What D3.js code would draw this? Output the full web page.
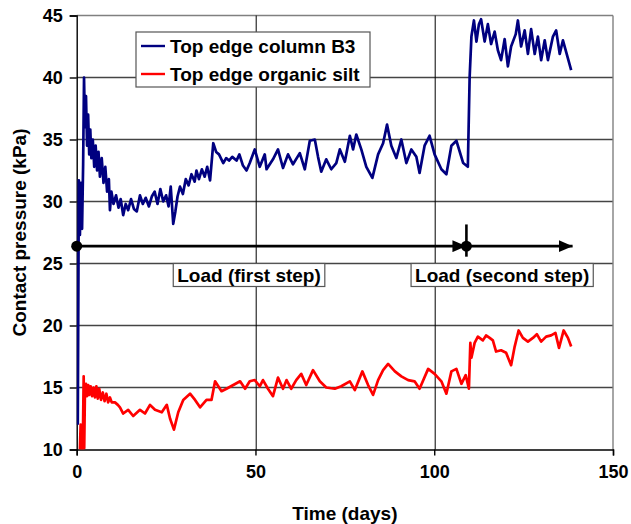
<!DOCTYPE html>
<html>
<head>
<meta charset="utf-8">
<script src="https://cdn.jsdelivr.net/npm/d3@7"></script>
<style>
  body { margin: 0; background: #fff; }
  text { font-family: "Liberation Sans", Arial, sans-serif; font-weight: bold; }
</style>
</head>
<body>
<svg id="chart" width="631" height="524"></svg>
<script>
// ---- data ----
var xTicks = [0, 50, 100, 150];
var yTicks = [10, 15, 20, 25, 30, 35, 40, 45];

var seriesNames = ["Top edge column B3", "Top edge organic silt"];
var seriesColors = ["#000080", "#ff0000"];

var blueT = [0.3, 0.6, 0.9, 1.2, 1.5, 1.8, 2.05, 2.3, 2.6, 2.9, 3.2, 3.5, 3.8, 4.1, 4.5, 4.9, 5.3, 5.7, 6.1, 6.5, 7, 7.5, 8, 8.5, 9, 9.3, 9.7, 10.3, 11, 11.7, 12.3, 13, 13.7, 14.4, 15.2, 16, 16.8, 17.7, 18.5, 19.3, 20.2, 21, 21.8, 22.6, 23.4, 24.2, 25, 25.7, 26.3, 27, 27.6, 28.2, 28.9, 29.7, 30.5, 31.3, 32.1, 33, 33.5, 34.2, 35, 35.8, 36.5, 37.3, 38.2, 39, 39.8, 41, 41.8, 42.6, 43.5, 44.7, 45.5, 46.5, 47.5,
  48.4, 49.8, 51.2, 52.6, 53.1, 54.9, 56.3, 57.7, 59.1, 60.5, 62.4, 63.8, 65.2, 66.6, 67.5, 68.4, 69.8, 71.2, 72.6, 73.6, 75.0, 76.4, 77.3, 78.2, 79.6, 81.0, 82.7, 84.3, 85.7, 86.8, 88.0, 89.4, 90.8, 92.2, 93.6, 95.0, 95.9, 97.3, 98.7, 100.1, 102.0, 103.4, 104.8, 106.2, 108.1, 109.4,
  109.9, 110.4, 111.1, 111.8, 112.5, 113.1, 114.1, 115.0, 115.9, 116.9, 117.8, 118.7, 119.7, 120.6, 121.5, 122.8, 123.4, 124.3, 125.3, 126.2, 127.1, 128.1, 129.0, 129.9, 130.9, 131.8, 133.2, 134.1, 135.1, 136.0, 138.3];
var blueV = [12, 31.7, 27.3, 31.5, 27.8, 33, 40.0, 36, 38.5, 34.5, 37, 33.8, 35.8, 33.5, 35, 32.8, 34.5, 32.5, 34, 32, 33.5, 31.5, 32.8, 30.8, 31.8, 29.3, 30.8, 29.8, 30.5, 29.5, 30.2, 28.9, 29.8, 29.3, 30.2, 29.4, 29.2, 30.5, 29.8, 30.3, 29.6, 30.4, 30.8, 29.8, 31, 30, 30.5, 29.6, 31.2, 28.2, 29.2, 30.4, 31.2, 30.6, 31.8, 31.3, 32.2, 31.6, 32.5, 31.8, 32.6, 32.0, 32.8, 31.7, 34.7, 34, 33.8, 33.1, 33.5, 33.3, 33.6, 33.3, 33.8, 32.9, 32.5,
  33.1, 34.2, 32.8, 33.8, 32.6, 33.4, 34.2, 32.7, 33.8, 33.0, 33.9, 32.6, 34.9, 35.0, 33.6, 32.4, 33.4, 32.6, 33.1, 34.2, 33.2, 35.3, 34.2, 35.4, 34.2, 32.8, 31.9, 33.8, 34.7, 36.2, 34.5, 33.5, 35.0, 33.1, 34.2, 33.6, 32.3, 34.5, 35.3, 33.8, 32.6, 32.2, 34.5, 34.9, 33.1, 32.8,
  40.0, 43.3, 44.6, 42.9, 44.3, 44.7, 42.9, 44.3, 42.7, 43.7, 42.2, 41.4, 43.1, 40.9, 42.5, 43.5, 44.6, 42.5, 43.8, 41.9, 43.9, 41.9, 43.3, 41.4, 43.0, 41.4, 43.3, 43.8, 41.9, 43.0, 40.6];

var redT = [0.9, 1.1, 1.4, 1.7, 1.95, 2.1, 2.3, 2.6, 2.9, 3.2, 3.5, 3.9, 4.3, 4.7, 5.1, 5.5, 5.9, 6.3, 6.8, 7.3, 7.8, 8.3, 8.8, 9.3, 9.8, 10.7, 11.5, 12.1, 13.0, 14.4, 15.8, 17.7, 19.1, 20.5, 21.9, 23.8, 25.2, 26.1, 27.2, 28.4, 29.8, 31.7, 33.1, 34.5, 36.3, 37.7, 38.7, 40.5, 41.9, 43.8, 45.7, 47.1,
  48.4, 49.8, 51.2, 52.1, 53.5, 54.9, 56.3, 57.7, 58.7, 60.0, 61.4, 62.8, 64.2, 66.1, 68.0, 69.8, 72.2, 74.0, 76.4, 77.8, 79.9, 81.5, 82.9, 84.3, 85.7, 87.1, 89.0, 90.8, 92.7, 94.5, 95.9, 98.3, 100.1, 102.0, 103.4, 104.8, 106.2, 107.6, 108.8, 109.7,
  110.1, 110.4, 111.3, 112.2, 113.6, 114.5, 115.5, 116.4, 117.3, 118.7, 120.1, 121.5, 122.5, 123.6, 124.8, 126.2, 127.6, 128.7, 129.9, 131.3, 132.7, 133.9, 134.9, 136.2, 137.4, 138.3];
var redV = [10, 12, 10, 10, 15.9, 10.1, 14.6, 15.3, 14.3, 15.2, 14.4, 15.1, 14.3, 15.0, 14.2, 15.1, 14.1, 14.9, 14.0, 14.6, 13.9, 14.5, 13.8, 14.2, 13.8, 13.8, 13.6, 13.4, 12.9, 13.2, 12.7, 13.2, 12.9, 13.6, 13.2, 13.0, 13.6, 12.5, 11.6, 13.0, 14.0, 14.5, 14.0, 13.4, 14.0, 14.0, 15.5, 14.7, 14.9, 15.2, 15.5, 14.9,
  15.5, 15.6, 15.1, 15.6, 14.9, 14.3, 15.8, 14.9, 15.6, 14.9, 15.6, 16.1, 15.2, 16.4, 15.5, 15.0, 14.9, 15.1, 15.5, 14.8, 16.3, 15.2, 14.4, 15.6, 16.4, 16.9, 16.3, 15.9, 15.6, 15.5, 14.9, 16.5, 16.1, 15.5, 14.5, 16.3, 16.5, 15.3, 16.0, 14.9,
  18.6, 17.4, 18.6, 19.1, 18.8, 19.2, 19.0, 18.8, 17.9, 18.0, 17.8, 16.8, 18.3, 19.6, 19.0, 18.7, 19.0, 19.3, 18.7, 19.1, 19.2, 19.4, 18.2, 19.6, 19.0, 18.3];

// load arrow annotation
var loadLevel = 26.4;
var loadSteps = [0, 109];
var loadEnd = 138.7;
var loadLabels = ["Load (first step)", "Load (second step)"];
var loadLabelT = [48.2, 119.0];
var loadLabelV = 24.1;

// ---- chart ----
var svg = d3.select("#chart"),
    margin = {top: 15.5, right: 18, bottom: 74.5, left: 76.7},
    width = 631 - margin.left - margin.right,
    height = 524 - margin.top - margin.bottom,
    g = svg.append("g").attr("transform", "translate(" + margin.left + "," + margin.top + ")");

var x = d3.scaleLinear().domain([0, 150]).range([0, width]),
    y = d3.scaleLinear().domain([10, 45]).range([height, 0]);

svg.append("defs").append("clipPath").attr("id", "clip")
  .append("rect").attr("width", width).attr("height", height);

// gridlines
g.selectAll(".hgrid").data(yTicks.slice(1)).enter().append("line")
    .attr("x1", 0).attr("x2", width)
    .attr("y1", function(d) { return y(d); }).attr("y2", function(d) { return y(d); })
    .attr("stroke", function(d) { return d == 45 ? "#808080" : "#444"; })
    .attr("stroke-width", 1.4);
g.selectAll(".vgrid").data([50, 100]).enter().append("line")
    .attr("y1", 0).attr("y2", height)
    .attr("x1", function(d) { return Math.round(x(d)) + 0.5; }).attr("x2", function(d) { return Math.round(x(d)) + 0.5; })
    .attr("stroke", "#000").attr("stroke-width", 1);
g.append("line").attr("x1", width).attr("x2", width).attr("y1", 0).attr("y2", height)
    .attr("stroke", "#808080").attr("stroke-width", 1.4);

// axes
var xAxis = g.append("g")
    .attr("transform", "translate(0," + height + ")")
    .call(d3.axisBottom(x).tickValues(xTicks).tickSize(6).tickPadding(10));
var yAxis = g.append("g")
    .call(d3.axisLeft(y).tickValues(yTicks).tickSize(7).tickPadding(7));
[xAxis, yAxis].forEach(function(a) {
  a.select(".domain").attr("stroke", "#000").attr("stroke-width", 1.4);
  a.selectAll(".tick line").attr("stroke", "#000").attr("stroke-width", 1.4);
  a.selectAll(".tick text").attr("fill", "#000").attr("font-size", 18)
    .attr("font-family", "Liberation Sans, Arial, sans-serif").attr("font-weight", "bold");
});

// series
var line = d3.line()
    .x(function(d) { return x(d[0]); })
    .y(function(d) { return y(d[1]); });

var series = [d3.zip(blueT, blueV), d3.zip(redT, redV)];
g.append("g").attr("clip-path", "url(#clip)")
  .selectAll("path").data(series).enter().append("path")
    .attr("d", line)
    .attr("fill", "none")
    .attr("stroke", function(d, i) { return seriesColors[i]; })
    .attr("stroke-width", 2.7)
    .attr("stroke-linejoin", "round");

// load arrows
var defs = svg.select("defs");
defs.append("marker").attr("id", "head")
    .attr("viewBox", "0 0 14 12").attr("refX", 14).attr("refY", 6)
    .attr("markerWidth", 14).attr("markerHeight", 12)
    .attr("markerUnits", "userSpaceOnUse").attr("orient", "auto")
  .append("path").attr("d", "M0,0L14,6L0,12Z").attr("fill", "#000");

var segs = [[loadSteps[0], loadSteps[1]], [loadSteps[1], loadEnd]];
g.selectAll(".seg").data(segs).enter().append("line")
    .attr("x1", function(d) { return x(d[0]); }).attr("x2", function(d) { return x(d[1]); })
    .attr("y1", y(loadLevel)).attr("y2", y(loadLevel))
    .attr("stroke", "#000").attr("stroke-width", 2.6)
    .attr("marker-end", "url(#head)");
g.append("line")
    .attr("x1", x(loadSteps[1])).attr("x2", x(loadSteps[1]))
    .attr("y1", y(loadLevel + 1.75)).attr("y2", y(loadLevel - 0.85))
    .attr("stroke", "#000").attr("stroke-width", 2.6);
g.selectAll(".dot").data(loadSteps).enter().append("circle")
    .attr("cx", function(d) { return x(d); }).attr("cy", y(loadLevel))
    .attr("r", 5.5).attr("fill", "#000");

// load labels
var lab = g.selectAll(".lab").data(loadLabels).enter().append("g");
lab.append("rect");
lab.append("text")
    .attr("x", function(d, i) { return x(loadLabelT[i]); })
    .attr("y", y(loadLabelV))
    .attr("dy", "0.36em")
    .attr("text-anchor", "middle")
    .attr("font-size", 19)
    .text(function(d) { return d; });
lab.each(function() {
  var gg = d3.select(this), bb = gg.select("text").node().getBBox();
  gg.select("rect")
    .attr("x", bb.x - 4).attr("y", bb.y - 1)
    .attr("width", bb.width + 8).attr("height", bb.height + 2)
    .attr("fill", "#fff").attr("stroke", "#555").attr("stroke-width", 1.2);
});

// legend
var legend = svg.append("g").attr("transform", "translate(136,32)");
legend.append("rect").attr("width", 234).attr("height", 55)
    .attr("fill", "#fff").attr("stroke", "#555").attr("stroke-width", 1.2);
var li = legend.selectAll(".li").data(seriesNames).enter().append("g")
    .attr("transform", function(d, i) { return "translate(0," + (14 + i * 28) + ")"; });
li.append("line").attr("x1", 5).attr("x2", 29)
    .attr("stroke", function(d, i) { return seriesColors[i]; }).attr("stroke-width", 2.4);
li.append("text").attr("x", 34).attr("dy", "0.36em").attr("font-size", 19)
    .text(function(d) { return d; });

// axis titles
svg.append("text").attr("x", margin.left + width / 2).attr("y", 520)
    .attr("text-anchor", "middle").attr("font-size", 19).text("Time (days)");
svg.append("text").attr("transform", "translate(26," + (margin.top + height / 2) + ") rotate(-90)")
    .attr("text-anchor", "middle").attr("font-size", 19).text("Contact pressure (kPa)");
</script>
</body>
</html>
